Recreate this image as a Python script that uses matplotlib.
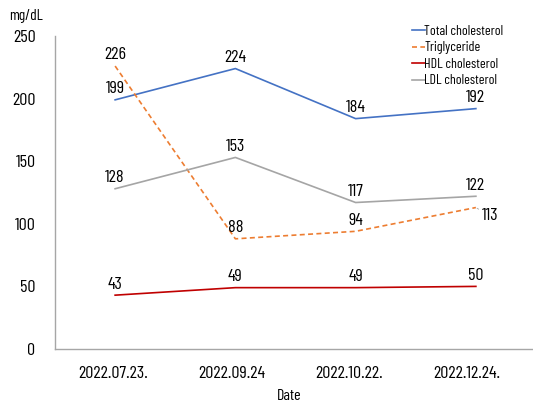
import matplotlib
matplotlib.use("Agg")
import matplotlib.pyplot as plt
from matplotlib.transforms import ScaledTranslation

dates = ["2022.07.23.", "2022.09.24", "2022.10.22.", "2022.12.24."]
total = [199, 224, 184, 192]
trig = [226, 88, 94, 113]
hdl = [43, 49, 49, 50]
ldl = [128, 153, 117, 122]
yticks = [0, 50, 100, 150, 200, 250]

plt.rcParams['font.family'] = ['Barlow Condensed', 'DejaVu Sans']

fig = plt.figure(figsize=(5.33, 4.04), dpi=100)
ax = fig.add_axes([55/533, 1 - 349/404, 481/533, 313/404])
x = list(range(len(dates)))

series = [
    ("Total cholesterol", total, "#4472C4", "-"),
    ("Triglyceride", trig, "#ED7D31", (0, (3, 2))),
    ("HDL cholesterol", hdl, "#C00000", "-"),
    ("LDL cholesterol", ldl, "#A5A5A5", "-"),
]
for name, vals, c, ls in series:
    ax.plot(x, vals, color=c, linestyle=ls, linewidth=1.2, label=name)

FS = 13
for name, vals, c, ls in series:
    for i, v in enumerate(vals):
        dx, dy = 0, 8
        if name == "Triglyceride" and i == 3:
            ax.annotate(str(v), (i, v), xytext=(10, -6), textcoords="offset points",
                        ha="center", va="center", fontsize=FS,
                        arrowprops=dict(arrowstyle="-", color="#A5A5A5", lw=0.6,
                                        shrinkA=6, shrinkB=1))
            continue
        ax.annotate(str(v), (i, v), xytext=(dx, dy), textcoords="offset points",
                    ha="center", va="center", fontsize=FS)

ax.set_xlim(-0.5, 3.5)
ax.set_ylim(0, 250)
ax.set_yticks(yticks)
ax.set_xticks(x)
ax.set_xticklabels(dates)
ax.tick_params(axis="both", length=0, labelsize=FS)
ax.tick_params(axis="y", pad=14)
ax.tick_params(axis="x", pad=12)
shifts = [-2, -4, -7, -9]
for lab, s in zip(ax.get_xticklabels(), shifts):
    lab.set_transform(lab.get_transform() + ScaledTranslation(s / 100, 0, fig.dpi_scale_trans))
for s in ["top", "right"]:
    ax.spines[s].set_visible(False)
for s in ["left", "bottom"]:
    ax.spines[s].set_color("#A6A6A6")
    ax.spines[s].set_linewidth(1.0)

fig.text(289/533, 1 - 396/404, "Date", fontsize=11.5, ha="center", va="center")
fig.text(9/533, 1 - 16/404, "mg/dL", fontsize=11, ha="left", va="center")

leg = ax.legend(loc="upper left", bbox_to_anchor=(357/481, 1 + 11/313), frameon=False,
                fontsize=10, handlelength=0.9, handletextpad=0.0,
                labelspacing=0.25, borderaxespad=0, borderpad=0)

fig.savefig("out.png", dpi=100)
